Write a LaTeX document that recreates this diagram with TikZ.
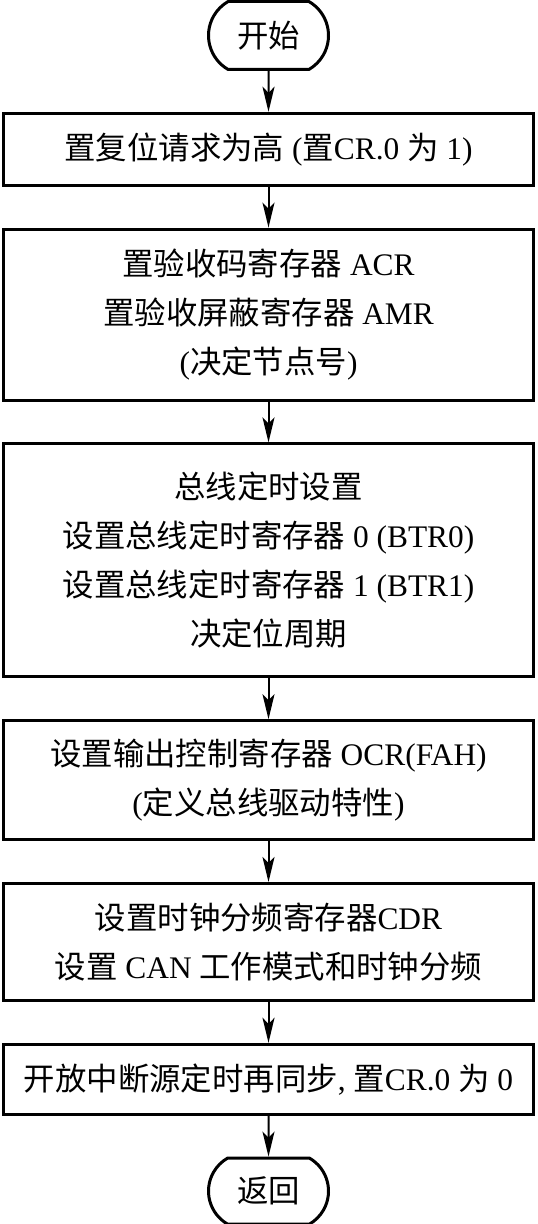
\documentclass[tikz,border=0pt]{standalone}
\usepackage{fontspec}
\setmainfont{Liberation Serif}
\newfontfamily\cjk{Noto Sans CJK SC}
\newcommand{\zh}[1]{{\cjk #1}}
\usetikzlibrary{arrows.meta,positioning,shapes.misc}

\begin{document}
\begin{tikzpicture}[
        node distance=20.4pt,
        font=\fontsize{15.7}{24.5}\selectfont,
        box/.style={rectangle,draw,line width=1.5pt,minimum width=265pt,align=center,inner sep=2pt},
        term/.style={rounded rectangle,rounded rectangle arc length=120,draw,line width=1.5pt,minimum width=64pt,minimum height=34pt,inner sep=2pt},
        arrow/.style={-{Stealth[length=12.5pt,width=6pt,inset=3pt]},line width=1pt}
    ]
        \useasboundingbox (0,0) rectangle (268.5pt,-612pt);

        \node[term] (start) at (134.25pt,-17.75pt) {\zh{开始}};
        \node[box, minimum height=36pt, below=of start] (reset) {\zh{置复位请求为高} (\zh{置}CR.0 \zh{为} 1)};
        \node[box, minimum height=85.5pt, below=of reset] (accept) {\zh{置验收码寄存器} ACR\\\zh{置验收屏蔽寄存器} AMR\\(\zh{决定节点号})};
        \node[box, minimum height=116.5pt, below=of accept] (timing) {\zh{总线定时设置}\\\zh{设置总线定时寄存器} 0 (BTR0)\\\zh{设置总线定时寄存器} 1 (BTR1)\\\zh{决定位周期}};
        \node[box, minimum height=59.5pt, below=of timing] (output) {\zh{设置输出控制寄存器} OCR(FAH)\\(\zh{定义总线驱动特性})};
        \node[box, minimum height=58.5pt, below=of output] (clock) {\zh{设置时钟分频寄存器}CDR\\\zh{设置} CAN \zh{工作模式和时钟分频}};
        \node[box, minimum height=35pt, below=of clock] (enable) {\zh{开放中断源定时再同步}, \zh{置}CR.0 \zh{为} 0};
        \node[term, minimum height=33pt, below=of enable] (ret) {\zh{返回}};

        \draw[arrow] (start) -- (reset);
        \draw[arrow] (reset) -- (accept);
        \draw[arrow] (accept) -- (timing);
        \draw[arrow] (timing) -- (output);
        \draw[arrow] (output) -- (clock);
        \draw[arrow] (clock) -- (enable);
        \draw[arrow] (enable) -- (ret);
\end{tikzpicture}
\end{document}
